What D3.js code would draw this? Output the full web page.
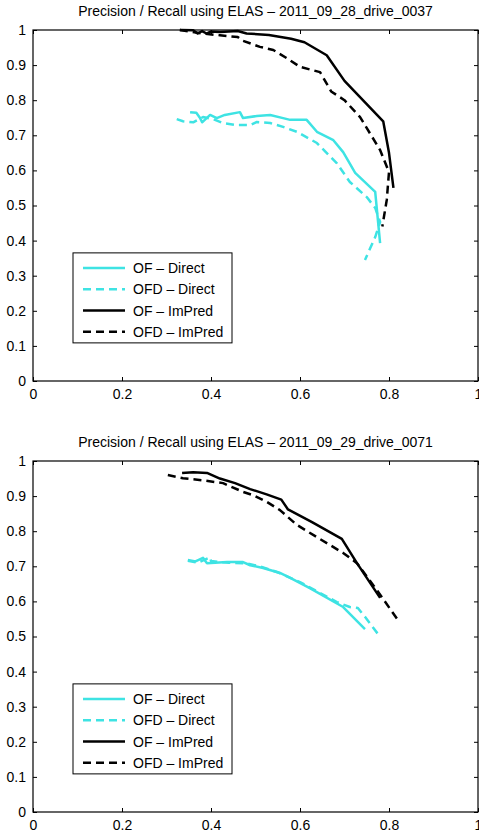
<!DOCTYPE html>
<html><head><meta charset="utf-8">
<script src="https://cdn.jsdelivr.net/npm/d3@7"></script>
<style>body{margin:0;background:#fff}svg{display:block}text{font-family:"Liberation Sans",Arial,sans-serif;fill:#000}</style>
</head><body>
<script>
// ---- data ----
const titles = ["Precision / Recall using ELAS \u2013 2011_09_28_drive_0037",
                "Precision / Recall using ELAS \u2013 2011_09_29_drive_0071"];
const seriesNames = ["OF \u2013 Direct","OFD \u2013 Direct","OF \u2013 ImPred","OFD \u2013 ImPred"];
const xTicks = [0,0.2,0.4,0.6,0.8,1];
const yTicks = [0,0.1,0.2,0.3,0.4,0.5,0.6,0.7,0.8,0.9,1];

// plot 1
const p1_OF_Direct_x = [0.353,0.367,0.375,0.38,0.398,0.413,0.431,0.465,0.472,0.503,0.533,0.562,0.578,0.615,0.638,0.675,0.697,0.724,0.769,0.78];
const p1_OF_Direct_y = [0.766,0.764,0.75,0.737,0.758,0.749,0.758,0.766,0.749,0.755,0.758,0.749,0.744,0.744,0.71,0.686,0.652,0.593,0.539,0.393];
const p1_OFD_Direct_x = [0.323,0.337,0.36,0.382,0.405,0.427,0.458,0.488,0.503,0.533,0.562,0.593,0.638,0.683,0.712,0.75,0.769,0.78,0.769,0.746];
const p1_OFD_Direct_y = [0.746,0.74,0.737,0.752,0.746,0.735,0.729,0.729,0.738,0.735,0.724,0.71,0.678,0.62,0.567,0.524,0.493,0.453,0.41,0.345];
const p1_OF_ImPred_x = [0.33,0.36,0.37,0.38,0.39,0.40,0.42,0.46,0.48,0.53,0.58,0.61,0.66,0.70,0.787,0.80,0.81];
const p1_OF_ImPred_y = [1.0,0.999,0.99,0.997,0.99,0.996,0.994,0.997,0.99,0.986,0.975,0.965,0.928,0.855,0.74,0.65,0.55];
const p1_OFD_ImPred_x = [0.33,0.38,0.42,0.46,0.47,0.51,0.54,0.57,0.60,0.645,0.67,0.70,0.735,0.78,0.80,0.798,0.795,0.785];
const p1_OFD_ImPred_y = [1.0,0.99,0.985,0.98,0.97,0.952,0.943,0.92,0.895,0.88,0.825,0.80,0.752,0.658,0.595,0.564,0.516,0.44];

// plot 2
const p2_OF_Direct_x = [0.348,0.365,0.382,0.391,0.436,0.472,0.488,0.517,0.555,0.578,0.622,0.697,0.746];
const p2_OF_Direct_y = [0.718,0.714,0.724,0.709,0.712,0.712,0.703,0.695,0.681,0.667,0.638,0.584,0.521];
const p2_OFD_Direct_x = [0.348,0.37,0.398,0.40,0.44,0.48,0.51,0.55,0.60,0.645,0.683,0.712,0.73,0.746,0.78];
const p2_OFD_Direct_y = [0.716,0.71,0.726,0.715,0.71,0.708,0.70,0.683,0.655,0.624,0.598,0.584,0.581,0.556,0.499];
const p2_OF_ImPred_x = [0.335,0.36,0.391,0.42,0.454,0.488,0.525,0.558,0.573,0.627,0.694,0.728,0.78];
const p2_OF_ImPred_y = [0.966,0.968,0.966,0.95,0.937,0.92,0.905,0.89,0.862,0.826,0.778,0.709,0.61];
const p2_OFD_ImPred_x = [0.303,0.337,0.382,0.427,0.472,0.494,0.526,0.555,0.593,0.638,0.697,0.728,0.773,0.82];
const p2_OFD_ImPred_y = [0.96,0.951,0.945,0.937,0.912,0.903,0.883,0.86,0.818,0.783,0.738,0.709,0.632,0.547];

const plots = [
  {title: titles[0], series: [[p1_OF_Direct_x,p1_OF_Direct_y],[p1_OFD_Direct_x,p1_OFD_Direct_y],[p1_OF_ImPred_x,p1_OF_ImPred_y],[p1_OFD_ImPred_x,p1_OFD_ImPred_y]]},
  {title: titles[1], series: [[p2_OF_Direct_x,p2_OF_Direct_y],[p2_OFD_Direct_x,p2_OFD_Direct_y],[p2_OF_ImPred_x,p2_OF_ImPred_y],[p2_OFD_ImPred_x,p2_OFD_ImPred_y]]}
];

// ---- styles ----
const colors = ["#3ee3e3","#3ee3e3","#000","#000"];
const dashes = [null,"8,5",null,"8,5"];
const W = 479, H = 834;
const L = 33, R = 478;
const tops = [30, 461], bottoms = [381, 812];

const svg = d3.select("body").append("svg").attr("width",W).attr("height",H);

plots.forEach((p,i)=>{
  const x = d3.scaleLinear().domain([0,1]).range([L,R]);
  const y = d3.scaleLinear().domain([0,1]).range([bottoms[i],tops[i]]);
  const g = svg.append("g");

  // title
  g.append("text").attr("x",(L+R)/2).attr("y",tops[i]-14).attr("text-anchor","middle")
    .style("font-size","14px").text(p.title);

  // axes (ticks inward)
  const ax = g.append("g").attr("transform",`translate(0,${bottoms[i]})`)
    .call(d3.axisBottom(x).tickValues(xTicks).tickSize(-4).tickPadding(8).tickFormat(d=>d3.format("")(d)));
  const axT = g.append("g").attr("transform",`translate(0,${tops[i]})`)
    .call(d3.axisTop(x).tickValues(xTicks).tickSize(-4).tickFormat(""));
  const ay = g.append("g").attr("transform",`translate(${L},0)`)
    .call(d3.axisLeft(y).tickValues(yTicks).tickSize(-4).tickPadding(7).tickFormat(d=>d3.format("")(+d.toFixed(1))));
  const ayR = g.append("g").attr("transform",`translate(${R},0)`)
    .call(d3.axisRight(y).tickValues(yTicks).tickSize(-4).tickFormat(""));
  [ax,axT,ay,ayR].forEach(a=>{
    a.select(".domain").remove();
    a.selectAll("line").attr("stroke","#000");
    a.selectAll("text").style("font-size","14px").attr("fill","#000").style("font-family",'"Liberation Sans",Arial,sans-serif');
  });
  ax.selectAll("text").attr("dy","0.71em");
  // frame
  g.append("rect").attr("x",L).attr("y",tops[i]).attr("width",R-L).attr("height",bottoms[i]-tops[i])
    .attr("fill","none").attr("stroke","#000").attr("stroke-width",1.2);

  // lines
  const line = d3.line().x(d=>x(d[0])).y(d=>y(d[1]));
  p.series.forEach((s,k)=>{
    const pts = s[0].map((v,j)=>[v,s[1][j]]);
    g.append("path").datum(pts).attr("d",line).attr("fill","none")
      .attr("stroke",colors[k]).attr("stroke-width",2.5)
      .attr("stroke-dasharray",dashes[k]).attr("stroke-linejoin","round");
  });

  // legend
  const lx = 73, ly = y(0.365) ;
  const lg = g.append("g").attr("transform",`translate(${lx},${ly})`);
  lg.append("rect").attr("x",0).attr("y",0).attr("width",159).attr("height",90)
    .attr("fill","#fff").attr("stroke","#000").attr("stroke-width",1);
  seriesNames.forEach((n,k)=>{
    const yy = 15 + k*21.3;
    lg.append("line").attr("x1",10).attr("x2",52).attr("y1",yy).attr("y2",yy)
      .attr("stroke",colors[k]).attr("stroke-width",2.5).attr("stroke-dasharray",dashes[k]);
    lg.append("text").attr("x",60).attr("y",yy).attr("dy","0.36em").style("font-size","14px").text(n);
  });
});
</script>
</body></html>
